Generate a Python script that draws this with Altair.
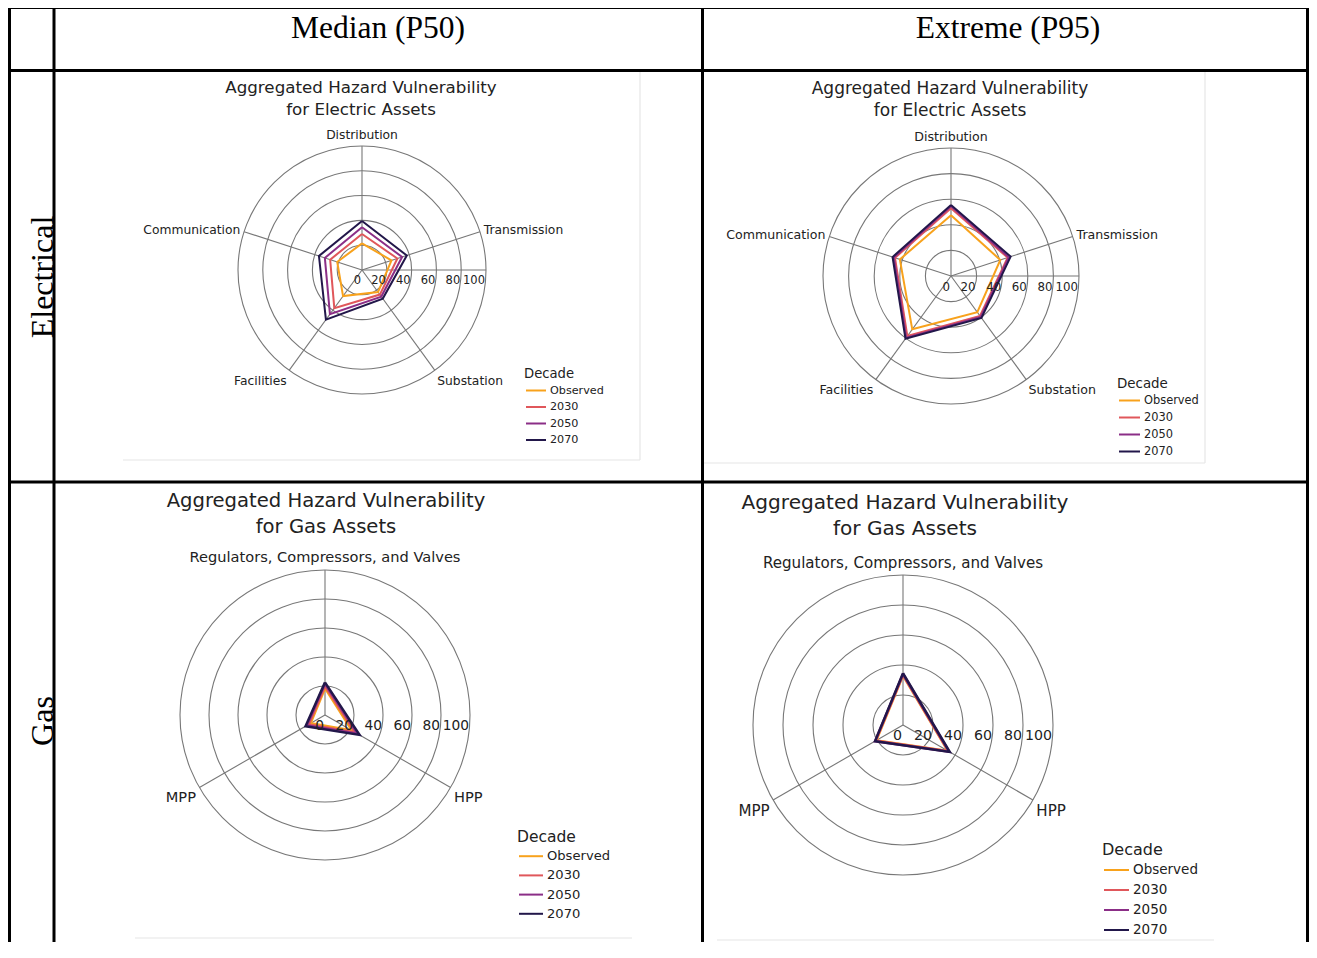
import math
import altair as alt
import pandas as pd

# ---------------- data ----------------
decades = ["Observed", "2030", "2050", "2070"]
decade_colors = ["#f8a21c", "#e0575b", "#8b2e87", "#22174a"]

electric_categories = ["Distribution", "Transmission", "Substation", "Facilities", "Communication"]
gas_categories = ["Regulators, Compressors, and Valves", "HPP", "MPP"]

p50_electric_observed = [21.5, 25.0, 22.0, 26.0, 21.0]
p50_electric_2030 = [29.0, 30.0, 24.5, 38.0, 27.0]
p50_electric_2050 = [34.5, 34.0, 26.5, 44.0, 31.5]
p50_electric_2070 = [39.5, 38.0, 28.5, 49.5, 36.5]

p95_electric_observed = [47.5, 40.5, 35.0, 51.5, 42.0]
p95_electric_2030 = [53.0, 46.5, 38.5, 58.0, 46.0]
p95_electric_2050 = [54.5, 47.5, 39.5, 59.5, 47.0]
p95_electric_2070 = [55.5, 49.0, 40.5, 60.5, 48.0]

p50_gas_observed = [18.5, 21.5, 11.5]
p50_gas_2030 = [20.0, 24.0, 13.0]
p50_gas_2050 = [21.5, 26.0, 14.5]
p50_gas_2070 = [22.5, 27.5, 15.5]

p95_gas_observed = [33.0, 34.5, 20.5]
p95_gas_2030 = [33.5, 35.0, 21.0]
p95_gas_2050 = [34.0, 35.5, 21.5]
p95_gas_2070 = [34.5, 36.0, 21.5]

radial_ticks = [0, 20, 40, 60, 80, 100]
ring_values = [20, 40, 60, 80, 100]
column_headers = ["Median (P50)", "Extreme (P95)"]
row_headers = ["Electrical", "Gas"]
title_line1 = "Aggregated Hazard Vulnerability"
electric_title_line2 = "for Electric Assets"
gas_title_line2 = "for Gas Assets"
legend_title = "Decade"

# ---------------- layout ----------------
W, H = 1301, 934
X0, Y0 = 8, 8
xs = alt.Scale(domain=[X0, X0 + W], nice=False, zero=False)
ys = alt.Scale(domain=[Y0, Y0 + H], nice=False, zero=False, reverse=True)

panels = [
    dict(cats=electric_categories, line2=electric_title_line2,
         series=[p50_electric_observed, p50_electric_2030, p50_electric_2050, p50_electric_2070],
         cx=362, cy=270, R=124, tx=361, ty=(87.5, 109.5), tfs=16.7, cfs=12.3, kfs=11.5,
         lx=524, ly=374, ldy=16.5, lgt=13.2, lgf=11.2, llen=20, lw=2, zero_spoke=True,
         frame=(123, 70, 640, 460)),
    dict(cats=electric_categories, line2=electric_title_line2,
         series=[p95_electric_observed, p95_electric_2030, p95_electric_2050, p95_electric_2070],
         cx=951, cy=276, R=128, tx=950, ty=(88.5, 110.5), tfs=17, cfs=12.6, kfs=11.8,
         lx=1117, ly=383.5, ldy=17, lgt=13.4, lgf=11.4, llen=21, lw=2, zero_spoke=True,
         frame=(703, 70, 1205, 463)),
    dict(cats=gas_categories, line2=gas_title_line2,
         series=[p50_gas_observed, p50_gas_2030, p50_gas_2050, p50_gas_2070],
         cx=325, cy=715, R=145, tx=326, ty=(501, 527), tfs=19.6, cfs=14.6, kfs=13.8,
         lx=517, ly=837, ldy=19.2, lgt=15.5, lgf=13.1, llen=24, lw=2.5, zero_spoke=False,
         frame=(135, 482, None, 938)),
    dict(cats=gas_categories, line2=gas_title_line2,
         series=[p95_gas_observed, p95_gas_2030, p95_gas_2050, p95_gas_2070],
         cx=903, cy=725, R=150, tx=905, ty=(503, 529), tfs=20.1, cfs=15.1, kfs=14.2,
         lx=1102, ly=850, ldy=20, lgt=16, lgf=13.5, llen=25, lw=2.5, zero_spoke=False,
         frame=(717, 482, None, 940)),
]

line_rows, ring_rows, spoke_rows, legend_rows = [], [], [], []
text_rows = []


def add_text(x, y, t, fs, align="center", font="DejaVu Sans", color="#222222"):
    text_rows.append(dict(x=x, y=y, text=t, fs=fs, align=align, font=font, col=color))


frame_rows = []
for pi, p in enumerate(panels):
    n = len(p["cats"])
    cx, cy, R = p["cx"], p["cy"], p["R"]
    angles = [90 - 360.0 / n * k for k in range(n)]
    for rv in ring_values:
        r = rv / 100 * R
        ring_rows.append(dict(x=cx, y=cy, sz=4 * r * r))
    for a in angles:
        ra = math.radians(a)
        spoke_rows.append(dict(x=cx, y=cy, x2=cx + R * math.cos(ra), y2=cy - R * math.sin(ra)))
    if p["zero_spoke"]:
        spoke_rows.append(dict(x=cx, y=cy, x2=cx + R, y2=cy))
    for di, d in enumerate(decades):
        vals = p["series"][di]
        for k in range(n + 1):
            kk = k % n
            ra = math.radians(angles[kk])
            r = vals[kk] / 100 * R
            line_rows.append(dict(panel=pi, decade=d, k=k, sw=p["lw"],
                                  x=cx + r * math.cos(ra), y=cy - r * math.sin(ra)))
    for k, c in enumerate(p["cats"]):
        ra = math.radians(angles[k])
        ca, sa = math.cos(ra), math.sin(ra)
        ax = cx + (R + 4) * ca
        ay = cy - (R + 4) * sa
        align = "left" if ca > 0.2 else ("right" if ca < -0.2 else "center")
        if sa > 0.4:
            ay -= p["cfs"] * 0.55
        elif sa < -0.4:
            ay += p["cfs"] * 0.6
        add_text(ax, ay, c, p["cfs"], align)
    for tv in radial_ticks:
        add_text(cx + tv / 100 * R - 1, cy + 10.5, str(tv), p["kfs"], "right")
    add_text(p["tx"], p["ty"][0], title_line1, p["tfs"])
    add_text(p["tx"], p["ty"][1], p["line2"], p["tfs"])
    add_text(p["lx"], p["ly"], legend_title, p["lgt"], "left")
    for di, d in enumerate(decades):
        yy = p["ly"] + p["ldy"] * (di + 1)
        legend_rows.append(dict(decade=d, x=p["lx"] + 2, x2=p["lx"] + 2 + p["llen"], y=yy))
        add_text(p["lx"] + 6 + p["llen"], yy, d, p["lgf"], "left")
    fx0, fy0, fx1, fy1 = p["frame"]
    frame_rows.append(dict(x=fx0, x2=fx1 if fx1 else fx0 + 497, y=fy1, y2=fy1))
    if fx1:
        frame_rows.append(dict(x=fx1, x2=fx1, y=fy0, y2=fy1))

add_text(378, 29, column_headers[0], 31.5, "center", "Liberation Serif", "#000000")
add_text(1008, 29, column_headers[1], 31.5, "center", "Liberation Serif", "#000000")

rot_rows = [dict(x=43, y=277, text=row_headers[0]), dict(x=43, y=721, text=row_headers[1])]

table_rows = [
    dict(x=8, x2=1317, y=7.5, y2=7.5),
    dict(x=8, x2=1317, y=70.5, y2=70.5),
    dict(x=8, x2=1317, y=482, y2=482),
    dict(x=9.5, x2=9.5, y=6, y2=960),
    dict(x=54, x2=54, y=6, y2=960),
    dict(x=702.5, x2=702.5, y=6, y2=960),
    dict(x=1307.5, x2=1307.5, y=6, y2=960),
]

lines_df = pd.DataFrame(line_rows)
rings_df = pd.DataFrame(ring_rows)
spokes_df = pd.DataFrame(spoke_rows)
legend_df = pd.DataFrame(legend_rows)
text_df = pd.DataFrame(text_rows)
rot_df = pd.DataFrame(rot_rows)
table_df = pd.DataFrame(table_rows)
frame_df = pd.DataFrame(frame_rows)

X = lambda f="x": alt.X(f + ":Q", scale=xs, axis=None)
Y = lambda f="y": alt.Y(f + ":Q", scale=ys, axis=None)
color_scale = alt.Scale(domain=decades, range=decade_colors)

layers = []

layers.append(alt.Chart(frame_df).mark_rule(color="#e6e6e6", strokeWidth=1.2).encode(
    x=X(), y=Y(), x2="x2:Q", y2="y2:Q"))

layers.append(alt.Chart(rings_df).mark_point(shape="circle", filled=False, color="#777777",
                                             strokeWidth=1.1, opacity=1).encode(
    x=X(), y=Y(), size=alt.Size("sz:Q", scale=None, legend=None)))

layers.append(alt.Chart(spokes_df).mark_rule(color="#777777", strokeWidth=1.1).encode(
    x=X(), y=Y(), x2="x2:Q", y2="y2:Q"))

for d in decades:
    sub = lines_df[lines_df["decade"] == d]
    layers.append(alt.Chart(sub).mark_line(strokeJoin="miter").encode(
        x=X(), y=Y(), order="k:Q", detail="panel:N",
        color=alt.Color("decade:N", scale=color_scale, legend=None),
        strokeWidth=alt.StrokeWidth("sw:Q", scale=None, legend=None)))

layers.append(alt.Chart(legend_df).mark_rule(strokeWidth=2).encode(
    x=X(), y=Y(), x2="x2:Q",
    color=alt.Color("decade:N", scale=color_scale, legend=None)))

for font in ["DejaVu Sans", "Liberation Serif"]:
    for align in ["left", "center", "right"]:
        sub = text_df[(text_df["font"] == font) & (text_df["align"] == align)]
        if len(sub) == 0:
            continue
        layers.append(alt.Chart(sub).mark_text(align=align, baseline="middle", font=font).encode(
            x=X(), y=Y(), text="text:N",
            size=alt.Size("fs:Q", scale=None, legend=None),
            color=alt.Color("col:N", scale=None, legend=None)))

layers.append(alt.Chart(rot_df).mark_text(angle=270, align="center", baseline="middle",
                                          font="Liberation Serif", fontSize=32, color="#000000").encode(
    x=X(), y=Y(), text="text:N"))

layers.append(alt.Chart(table_df).mark_rule(color="#000000", strokeWidth=3).encode(
    x=X(), y=Y(), x2="x2:Q", y2="y2:Q"))

chart = alt.layer(*layers).properties(
    width=W, height=H, padding=0, autosize="none", background="white"
).configure_view(stroke=None)

chart.save("out.html", embed_options={"renderer": "svg", "actions": False})
